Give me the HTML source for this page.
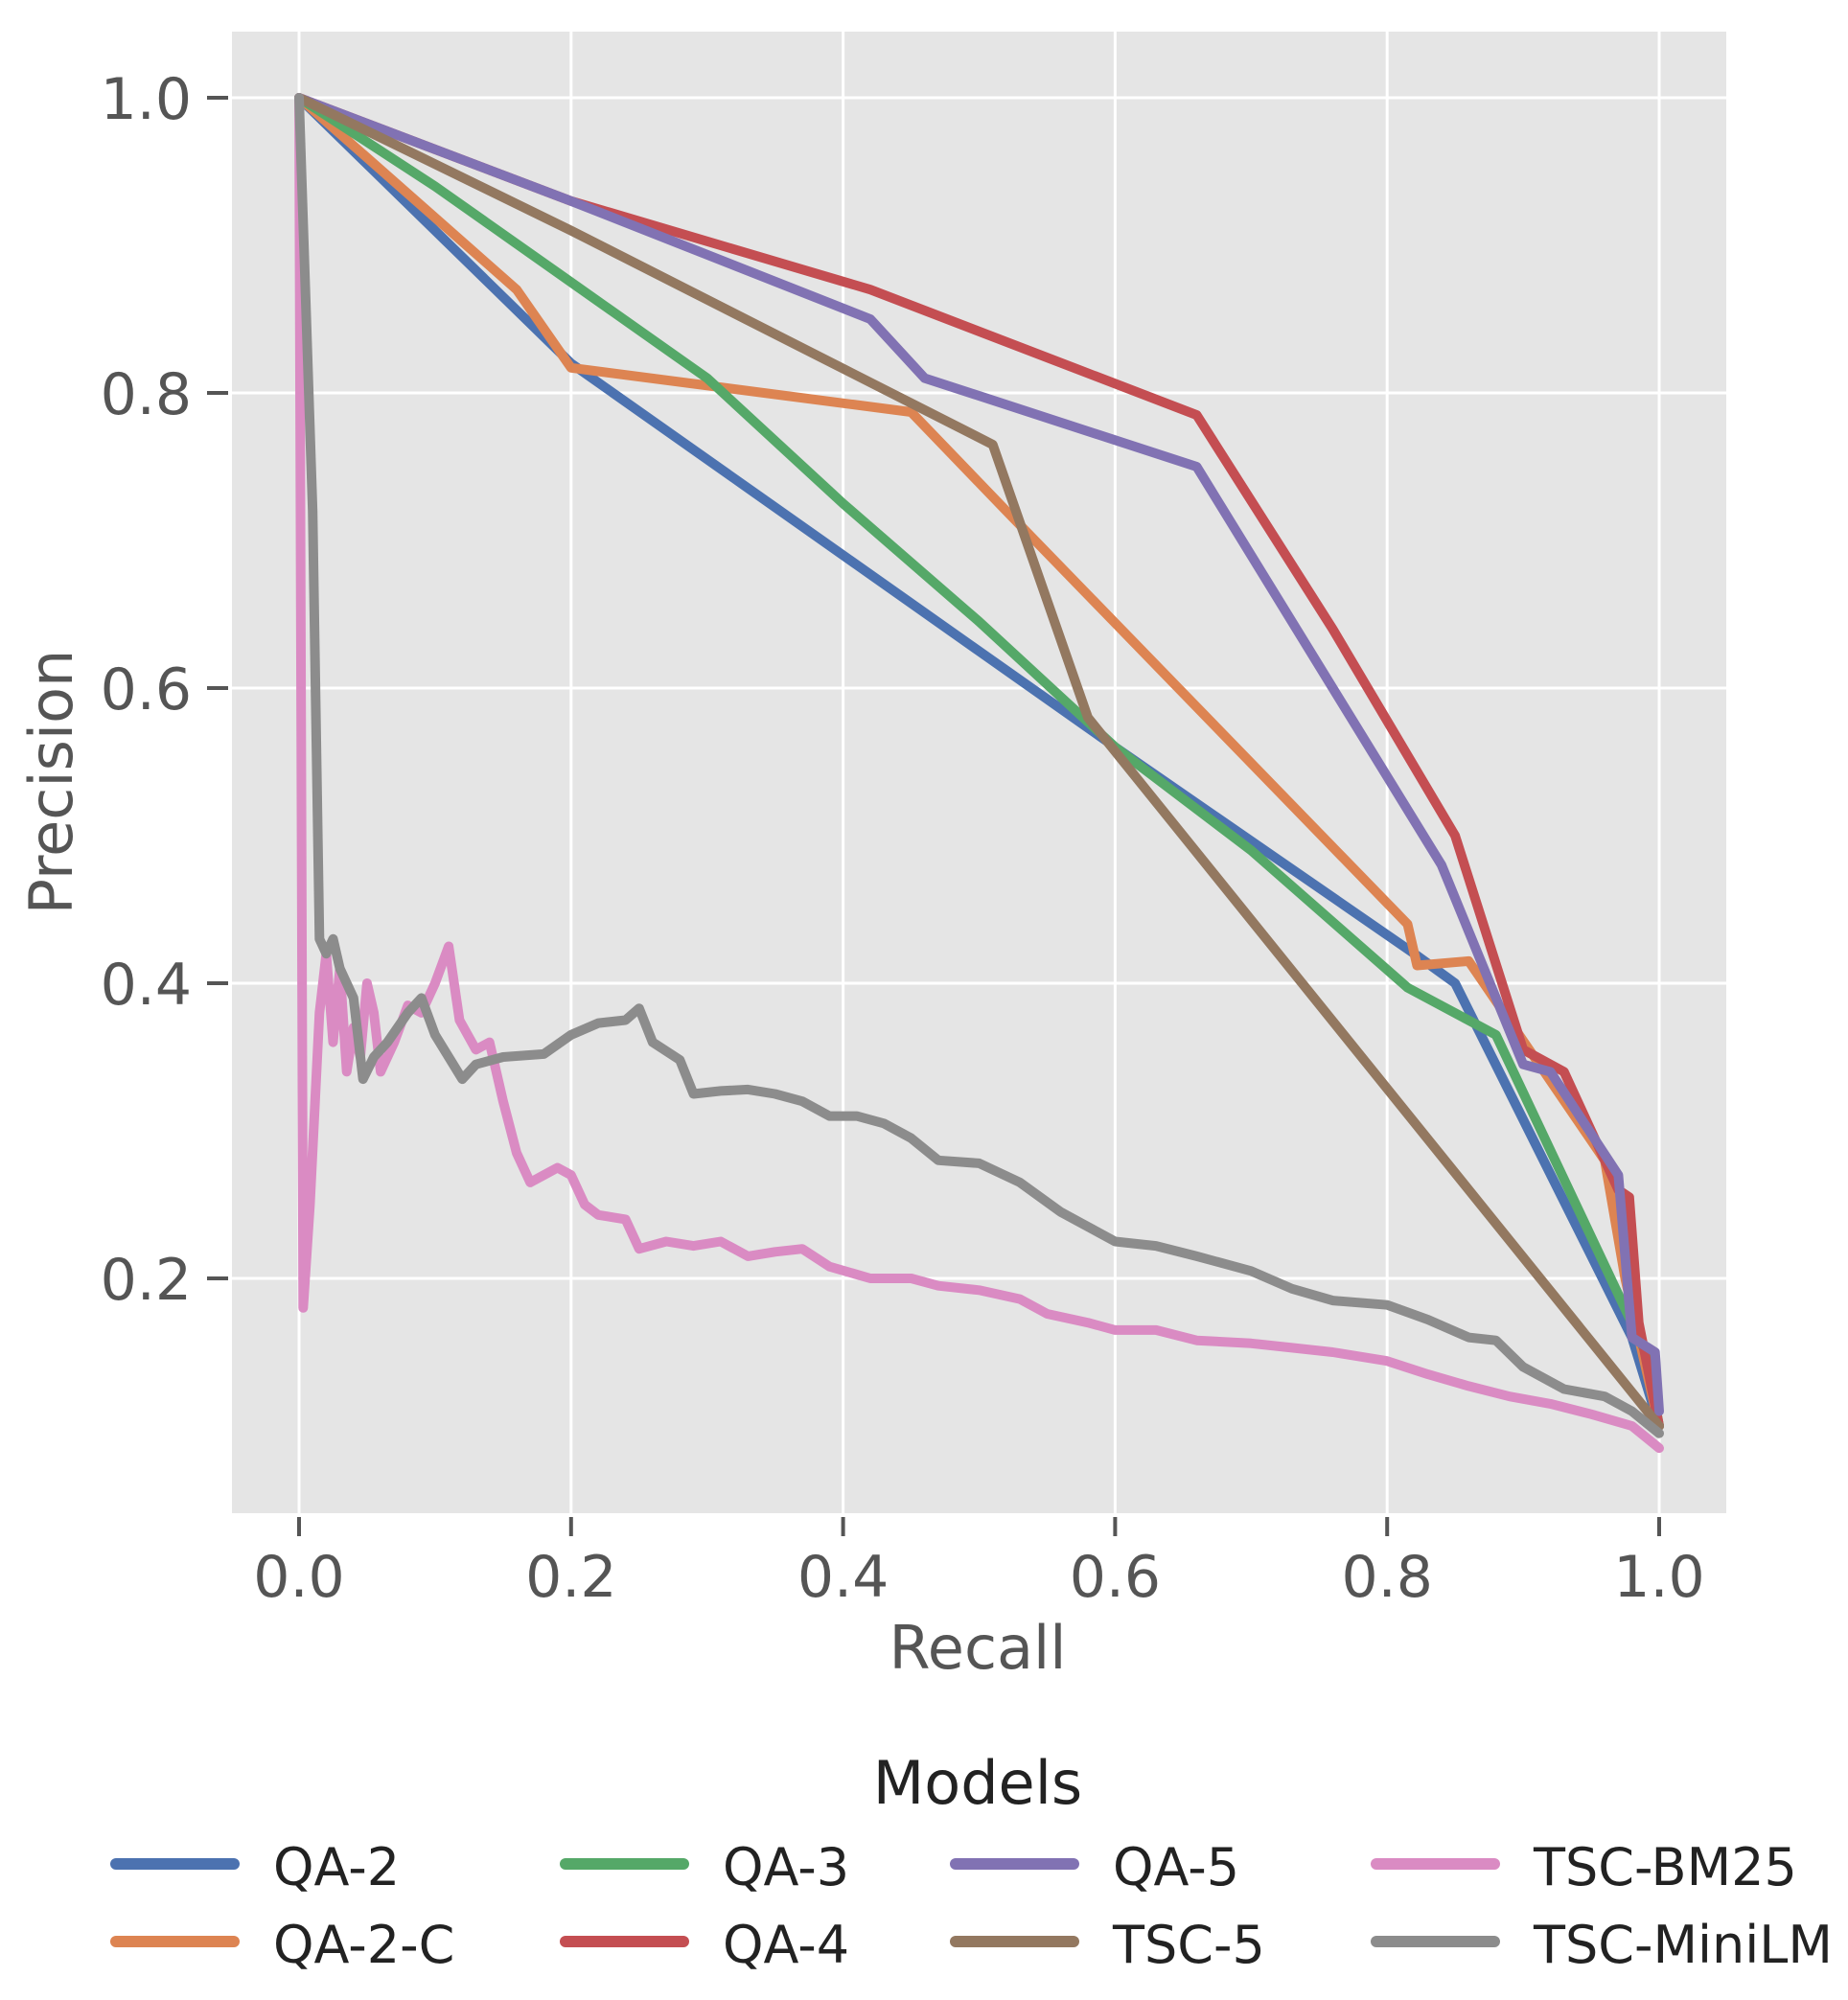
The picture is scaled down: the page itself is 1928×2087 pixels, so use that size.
<!DOCTYPE html>
<html><head><meta charset="utf-8"><style>
html,body{margin:0;padding:0;background:#fff;}
svg text{font-family:"DejaVu Sans","Liberation Sans",sans-serif;}
</style></head><body>
<svg id="chart" width="1928" height="2082" viewBox="0 0 1928 2082" xmlns="http://www.w3.org/2000/svg">
<rect x="242" y="33" width="1559" height="1546" fill="#e5e5e5"/>
<g id="grid"></g>
<g id="axes"></g>
<g id="series"></g>
<text x="1020" y="1741" font-size="62" fill="#555" text-anchor="middle">Recall</text>
<text x="0" y="0" font-size="62" fill="#555" text-anchor="middle" transform="translate(75,816) rotate(-90)">Precision</text>
<text x="1020" y="1882" font-size="62" fill="#222" text-anchor="middle">Models</text>
<g id="legend"></g>
</svg>
<script>
const xTicks = [0, 0.2, 0.4, 0.6, 0.8, 1.0];
const yTicks = [0.2, 0.4, 0.6, 0.8, 1.0];
const xTickLabels = ["0.0","0.2","0.4","0.6","0.8","1.0"];
const yTickLabels = ["0.2","0.4","0.6","0.8","1.0"];
const seriesNames = ["QA-2","QA-2-C","QA-3","QA-4","QA-5","TSC-5","TSC-BM25","TSC-MiniLM"];
const seriesColors = ["#4c72b0","#dd8452","#55a868","#c44e52","#8172b3","#937860","#da8bc3","#8c8c8c"];
const qa2 = [[0,1],[0.2,0.82],[0.6,0.56],[0.82,0.42],[0.85,0.40],[0.98,0.16],[1,0.1]];
const qa2c = [[0,1],[0.16,0.87],[0.2,0.817],[0.45,0.787],[0.52,0.72],[0.815,0.44],[0.822,0.412],[0.86,0.415],[0.96,0.28],[0.975,0.2],[1,0.1]];
const qa3 = [[0,1],[0.1,0.94],[0.2,0.875],[0.3,0.81],[0.4,0.725],[0.5,0.645],[0.6,0.56],[0.7,0.49],[0.815,0.397],[0.88,0.365],[0.99,0.15],[1,0.1]];
const qa4 = [[0,1],[0.2,0.93],[0.42,0.87],[0.66,0.785],[0.76,0.64],[0.85,0.5],[0.9,0.355],[0.93,0.34],[0.97,0.26],[0.978,0.255],[0.985,0.17],[1,0.1]];
const qa5 = [[0,1],[0.2,0.93],[0.42,0.85],[0.46,0.81],[0.66,0.75],[0.84,0.48],[0.9,0.345],[0.92,0.34],[0.97,0.27],[0.98,0.16],[0.997,0.15],[1,0.11]];
const tsc5 = [[0,1],[0.2,0.91],[0.51,0.765],[0.58,0.58],[1,0.1]];
const bm25 = [[0,1],[0.003,0.18],[0.008,0.25],[0.015,0.38],[0.02,0.42],[0.025,0.36],[0.03,0.41],[0.035,0.34],[0.04,0.37],[0.045,0.35],[0.05,0.40],[0.055,0.38],[0.06,0.34],[0.07,0.36],[0.08,0.385],[0.09,0.38],[0.1,0.4],[0.11,0.425],[0.118,0.375],[0.13,0.355],[0.14,0.36],[0.15,0.32],[0.16,0.285],[0.17,0.265],[0.18,0.27],[0.19,0.275],[0.2,0.27],[0.21,0.25],[0.22,0.243],[0.24,0.24],[0.25,0.22],[0.27,0.225],[0.29,0.222],[0.31,0.225],[0.33,0.215],[0.35,0.218],[0.37,0.22],[0.39,0.208],[0.42,0.2],[0.45,0.2],[0.47,0.195],[0.5,0.192],[0.53,0.186],[0.55,0.176],[0.58,0.17],[0.6,0.165],[0.63,0.165],[0.66,0.158],[0.7,0.156],[0.73,0.153],[0.76,0.15],[0.8,0.144],[0.83,0.135],[0.86,0.127],[0.89,0.12],[0.92,0.115],[0.95,0.108],[0.98,0.1],[1,0.085]];
const minilm = [[0,1],[0.01,0.72],[0.015,0.43],[0.02,0.42],[0.025,0.43],[0.03,0.41],[0.04,0.39],[0.047,0.335],[0.055,0.35],[0.065,0.36],[0.08,0.38],[0.09,0.39],[0.1,0.365],[0.12,0.335],[0.13,0.345],[0.15,0.35],[0.18,0.352],[0.2,0.365],[0.22,0.373],[0.24,0.375],[0.25,0.383],[0.26,0.36],[0.28,0.348],[0.29,0.325],[0.31,0.327],[0.33,0.328],[0.35,0.325],[0.37,0.32],[0.39,0.31],[0.41,0.31],[0.43,0.305],[0.45,0.295],[0.47,0.28],[0.5,0.278],[0.53,0.265],[0.56,0.245],[0.6,0.225],[0.63,0.222],[0.66,0.215],[0.7,0.205],[0.73,0.193],[0.76,0.185],[0.8,0.182],[0.83,0.172],[0.86,0.16],[0.88,0.158],[0.9,0.14],[0.93,0.125],[0.96,0.12],[0.98,0.11],[1,0.095]];
const seriesData = [qa2, qa2c, qa3, qa4, qa5, tsc5, bm25, minilm];

const NS = "http://www.w3.org/2000/svg";
function X(v){ return 312 + v * 1419; }
function Y(v){ return 102 + (1 - v) * 1540; }
function mk(tag, attrs, parent){ const e = document.createElementNS(NS, tag); for (const k in attrs) e.setAttribute(k, attrs[k]); parent.appendChild(e); return e; }

const grid = document.getElementById('grid');
const axes = document.getElementById('axes');
xTicks.forEach((t, i) => {
  const g = mk('line', {x1: X(t), x2: X(t), y1: 33, y2: 1579, stroke: '#fff', 'stroke-width': 3}, grid);
  
  
  const tk = mk('line', {x1: X(t), x2: X(t), y1: 1583, y2: 1603, stroke: '#555', 'stroke-width': 4}, axes);
  
  
  const lb = mk('text', {x: X(t), y: 1666, 'font-size': 60, fill: '#555', 'text-anchor': 'middle'}, axes);
  lb.textContent = xTickLabels[i];
  
  
});
yTicks.forEach((t, i) => {
  const g = mk('line', {x1: 242, x2: 1801, y1: Y(t), y2: Y(t), stroke: '#fff', 'stroke-width': 3}, grid);
  
  
  const tk = mk('line', {x1: 216, x2: 238, y1: Y(t), y2: Y(t), stroke: '#555', 'stroke-width': 4}, axes);
  
  
  const lb = mk('text', {x: 200, y: Y(t) + 22, 'font-size': 60, fill: '#555', 'text-anchor': 'end'}, axes);
  lb.textContent = yTickLabels[i];
  
  
});

const series = document.getElementById('series');
seriesData.forEach((d, i) => {
  const pts = d.map(p => X(p[0]).toFixed(1) + ',' + Y(p[1]).toFixed(1)).join(' ');
  const pl = mk('polyline', {points: pts, fill: 'none', stroke: seriesColors[i], 'stroke-width': 10, 'stroke-linejoin': 'round', 'stroke-linecap': 'round'}, series);
  
  
});

const legend = document.getElementById('legend');
const colX = [121, 590, 997, 1436];
const rowY = [1945, 2026];
seriesNames.forEach((n, i) => {
  const c = Math.floor(i / 2), r = i % 2;
  const h = mk('line', {x1: colX[c], x2: colX[c] + 123, y1: rowY[r], y2: rowY[r], stroke: seriesColors[i], 'stroke-width': 12, 'stroke-linecap': 'round'}, legend);
  
  
  const t = mk('text', {x: colX[c] + 164, y: rowY[r] + 22, 'font-size': 54, fill: '#222'}, legend);
  t.textContent = n;
  
  
});
</script>
</body></html>
